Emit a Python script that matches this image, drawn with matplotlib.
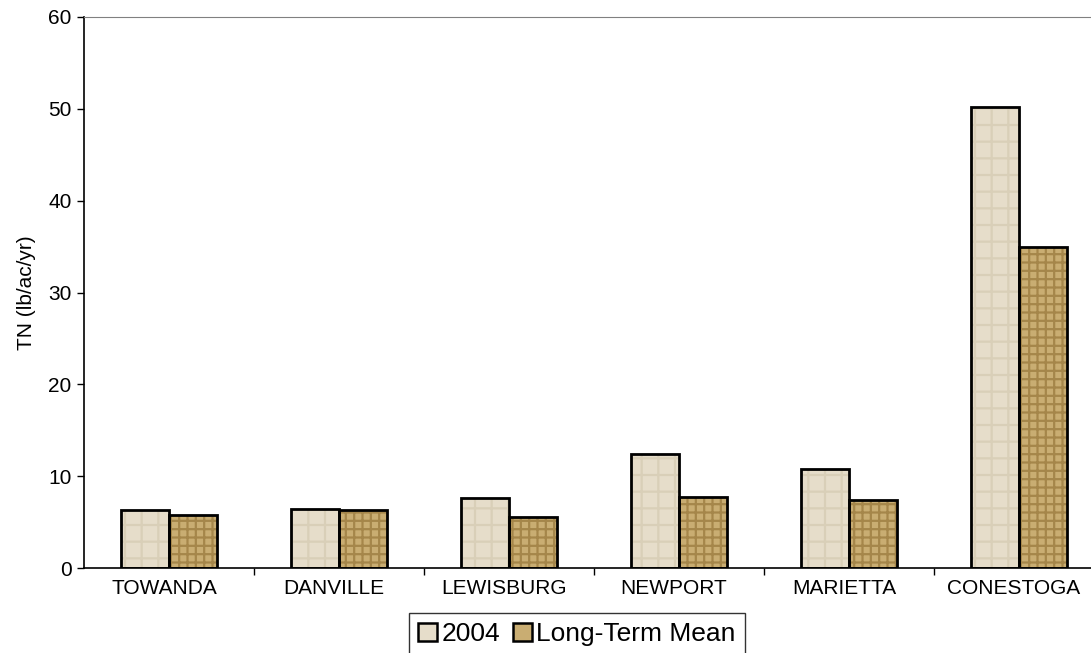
import numpy as np
import matplotlib.pyplot as plt
from matplotlib.patches import Patch

plt.rcParams['font.family'] = ['Liberation Sans', 'DejaVu Sans']
plt.rcParams['hatch.linewidth'] = 1.6

sites = ['TOWANDA', 'DANVILLE', 'LEWISBURG', 'NEWPORT', 'MARIETTA', 'CONESTOGA']
tn_2004 = [6.3, 6.4, 7.6, 12.4, 10.8, 50.2]
tn_mean = [5.8, 6.3, 5.5, 7.7, 7.4, 35.0]

c_2004 = '#e6ddca'
h_2004 = '#d9cfb8'
c_mean = '#c9ad72'
h_mean = '#a5864a'

fig = plt.figure(figsize=(10.91, 6.53), dpi=100)
ax = fig.add_axes([84 / 1091, 85 / 653, 1020 / 1091, 551 / 653])

x = np.arange(len(sites))
w = 0.285

# texture layer, then black outline on top
ax.bar(x - w / 2, tn_2004, w, color=c_2004, edgecolor=h_2004, hatch='+', linewidth=0)
ax.bar(x + w / 2, tn_mean, w, color=c_mean, edgecolor=h_mean, hatch='++', linewidth=0)
ax.bar(x - w / 2, tn_2004, w, fill=False, edgecolor='black', linewidth=2)
ax.bar(x + w / 2, tn_mean, w, fill=False, edgecolor='black', linewidth=2)

ax.set_xlim(-0.5, len(sites) - 0.5)
ax.set_ylim(0, 60)
ax.set_yticks(range(0, 61, 10))
ax.set_xticks(x - 0.03)
ax.set_xticklabels(sites, fontsize=15)
ax.set_xticks(np.arange(0.5, len(sites) - 0.5, 1), minor=True)
ax.tick_params(axis='x', which='major', length=0, pad=8)
ax.tick_params(axis='x', which='minor', length=5, direction='out', width=1)
ax.tick_params(axis='y', labelsize=15, length=5, direction='out', width=1, pad=4)
ax.set_ylabel('TN (lb/ac/yr)', fontsize=15, labelpad=9)

ax.spines['right'].set_visible(False)
ax.spines['top'].set_color('#808080')
ax.spines['left'].set_linewidth(1.2)
ax.spines['bottom'].set_linewidth(1.2)

handles = [Patch(facecolor=c_2004, edgecolor='black', linewidth=1.8, label='2004'),
           Patch(facecolor=c_mean, edgecolor='black', linewidth=1.8, label='Long-Term Mean')]
fig.legend(handles=handles, loc='upper left', bbox_to_anchor=(409 / 1091, 1 - 613 / 653),
           ncol=2, fontsize=19, frameon=True, fancybox=False, edgecolor='black',
           handlelength=0.72, handleheight=0.72, handletextpad=0.15, columnspacing=0.5,
           borderpad=0.35, borderaxespad=0)

fig.savefig('out.png', dpi=100)
